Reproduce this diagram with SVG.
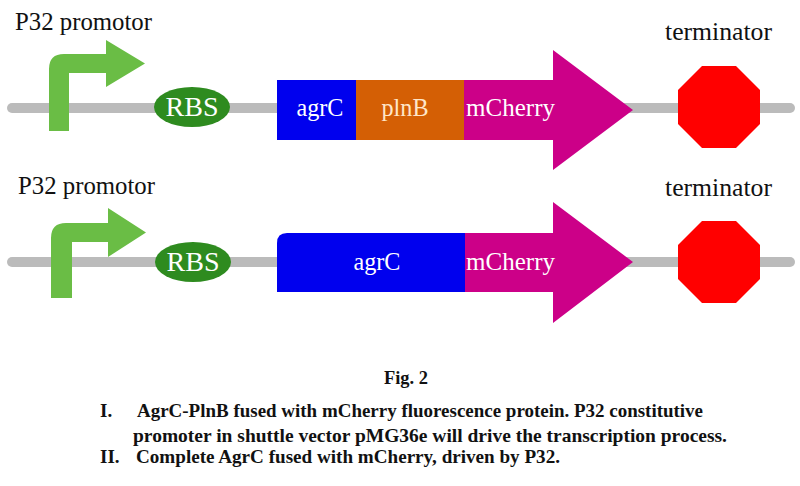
<svg xmlns="http://www.w3.org/2000/svg" width="800" height="486" viewBox="0 0 800 486">
<style>
.bb{stroke:#bbbbbb;stroke-width:10;stroke-linecap:round;fill:none}
.prom{fill:#6abd45}
.rbs{fill:#2e8b1f}
text{font-family:"Liberation Serif","Times New Roman","DejaVu Serif",serif}
.t{font-size:25px}
.w{fill:#ffffff}
.k{fill:#111111}
.cap{font-size:19px;font-weight:bold;fill:#111111}
.term{fill:#ff0000}
</style>
<rect width="800" height="486" fill="#ffffff"/>
<g id="connectors">
<line class="bb" x1="12" y1="108" x2="790" y2="108"/>
<line class="bb" x1="12" y1="262" x2="790" y2="262"/>
</g>
<g id="promoter1">
<path class="prom" d="M49,131 V69 Q49,54 64,54 H106 V40 L145,63.5 L106,87 V73 H69 V131 Z"/>
<text class="t k" x="15" y="30" textLength="137" lengthAdjust="spacingAndGlyphs">P32 promotor</text>
</g>
<g id="rbs1">
<ellipse class="rbs" cx="192" cy="107" rx="38" ry="20"/>
<text class="t w" x="192" y="116" text-anchor="middle" style="font-size:27px" textLength="53" lengthAdjust="spacingAndGlyphs">RBS</text>
</g>
<g id="gene1">
<path fill="#cc0088" d="M464,80 H553 V50 L633,110 L553,170 V140 H464 Z"/>
<rect x="277" y="80" width="79" height="60" fill="#0000ee"/>
<rect x="356" y="80" width="108" height="60" fill="#d45f05"/>
<text class="t w" x="320" y="116" text-anchor="middle" textLength="47" lengthAdjust="spacingAndGlyphs">agrC</text>
<text class="t" fill="#ffe6c8" x="405" y="116" text-anchor="middle" textLength="47" lengthAdjust="spacingAndGlyphs">plnB</text>
<text class="t w" x="466" y="116" textLength="89" lengthAdjust="spacingAndGlyphs">mCherry</text>
</g>
<g id="terminator1">
<polygon class="term" points="702,66 736,66 760,90 760,124 736,148 702,148 678,124 678,90"/>
<text class="t k" x="665" y="40" textLength="107" lengthAdjust="spacingAndGlyphs">terminator</text>
</g>
<g id="promoter2">
<path class="prom" d="M51,298 V238 Q51,223 66,223 H108 V208 L146,232.5 L108,257 V242 H72 V298 Z"/>
<text class="t k" x="18" y="194" textLength="137" lengthAdjust="spacingAndGlyphs">P32 promotor</text>
</g>
<g id="rbs2">
<ellipse class="rbs" cx="193" cy="262" rx="38" ry="20"/>
<text class="t w" x="193" y="271" text-anchor="middle" style="font-size:27px" textLength="53" lengthAdjust="spacingAndGlyphs">RBS</text>
</g>
<g id="gene2">
<path fill="#cc0088" d="M465,233 H553 V202 L633,262 L553,323 V292 H465 Z"/>
<path fill="#0000ee" d="M287,233 H465 V292 H277 V243 Q277,233 287,233 Z"/>
<text class="t w" x="377" y="270" text-anchor="middle" textLength="47" lengthAdjust="spacingAndGlyphs">agrC</text>
<text class="t w" x="466" y="270" textLength="89" lengthAdjust="spacingAndGlyphs">mCherry</text>
</g>
<g id="terminator2">
<polygon class="term" points="702,221 736,221 760,245 760,279 736,303 702,303 678,279 678,245"/>
<text class="t k" x="665" y="196" textLength="107" lengthAdjust="spacingAndGlyphs">terminator</text>
</g>
<g id="caption">
<text class="cap" x="384" y="384" textLength="44" lengthAdjust="spacingAndGlyphs">Fig. 2</text>
<text class="cap" x="100" y="417">I.</text>
<text class="cap" x="137" y="417" textLength="566" lengthAdjust="spacingAndGlyphs">AgrC-PlnB fused with mCherry fluorescence protein. P32 constitutive</text>
<text class="cap" x="133" y="442" textLength="594" lengthAdjust="spacingAndGlyphs">promoter in shuttle vector pMG36e will drive the transcription process.</text>
<text class="cap" x="100" y="463">II.</text>
<text class="cap" x="136" y="463" textLength="424" lengthAdjust="spacingAndGlyphs">Complete AgrC fused with mCherry, driven by P32.</text>
</g>
</svg>
